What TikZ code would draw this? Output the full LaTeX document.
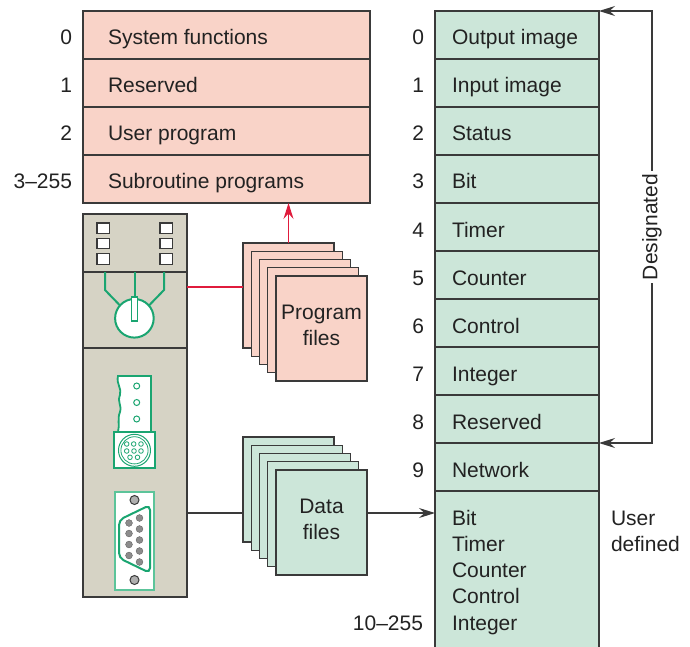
\documentclass[tikz,border=0pt]{standalone}
\usepackage{fontspec}
\setmainfont{Liberation Sans}
\usetikzlibrary{arrows.meta,calc}
\definecolor{pinkfill}{HTML}{F9D3C8}
\definecolor{mintfill}{HTML}{CCE6D9}
\definecolor{plcgray}{HTML}{D6D3C5}
\definecolor{edge}{HTML}{3A3A3A}
\definecolor{ink}{HTML}{222222}
\definecolor{wire}{HTML}{E01B3C}
\definecolor{pcb}{HTML}{1AA571}
\definecolor{pcblight}{HTML}{5CC49A}
\definecolor{pin}{HTML}{8C8C8C}

\begin{document}
\begin{tikzpicture}[x=1pt,y=-1pt,
  every node/.style={inner sep=0pt, outer sep=0pt, text=ink},
  font=\fontsize{21}{26.4}\selectfont,
  frame/.style={draw=edge, line width=1.3pt},
  progrow/.style={frame, fill=pinkfill, minimum width=287pt, minimum height=48pt, anchor=north west},
  datarow/.style={frame, fill=mintfill, minimum width=164pt, minimum height=48pt, anchor=north west},
  sheetbox/.style={frame, minimum width=91pt, minimum height=105pt, anchor=north west, align=center, text depth=6pt},
  arrowed/.style={-{Stealth[length=16pt,width=10pt,inset=5.5pt]}},
  conn/.style={draw=edge, line width=1.2pt},
  redconn/.style={draw=wire, line width=1.2pt},
  greenline/.style={draw=pcb, line width=2pt},
  led/.style={draw=edge, line width=1.1pt, fill=white},
  pinball/.style={fill=pin, draw=pin!70!black, line width=0.4pt},
]
\useasboundingbox (0,0) rectangle (690,647);

% ---------- program file table ----------
\foreach \i/\t/\n in {0/System functions/0, 1/Reserved/1, 2/User program/2, 3/Subroutine programs/3--255}{
  \node[progrow] (p\i) at (83,{11+48*\i}) {};
  \node[anchor=base west] (pt\i) at ($(p\i.north west)+(25,34)$) {\t};
  \node[anchor=base east] (pn\i) at ($(p\i.north west)+(-11,34)$) {\n};
}

% ---------- data file table ----------
\foreach \i/\t in {0/Output image, 1/Input image, 2/Status, 3/Bit, 4/Timer, 5/Counter, 6/Control, 7/Integer, 8/Reserved, 9/Network}{
  \node[datarow] (d\i) at (435,{11+48*\i}) {};
  \node[anchor=base west] (dt\i) at ($(d\i.north west)+(17,34)$) {\t};
  \node[anchor=base east] (dn\i) at ($(d\i.north west)+(-11,34)$) {\i};
}
\node[datarow, minimum height=170pt] (d10) at (435,491) {};
\foreach \k/\t in {0/Bit, 1/Timer, 2/Counter, 3/Control, 4/Integer}{
  \node[anchor=base west] (ud\k) at ($(d10.north west)+(17,{34+26.3*\k})$) {\t};
}
\node[anchor=base east] (dn10) at ($(d10.north west)+(-12,139.2)$) {10--255};
\node[anchor=base west] (user1) at (611,525) {User};
\node[anchor=base west] (user2) at (611,551.3) {defined};

% designated bracket
\node[rotate=90, inner xsep=3pt] (desig) at (652,227) {Designated};
\draw[conn, arrowed] (desig.east) |- (d0.north east);
\draw[conn, arrowed] (desig.west) |- (d9.north east);

% ---------- PLC processor module ----------
\draw[frame, fill=plcgray] (83,214) rectangle (187,597);
\draw[frame] (83,272) -- (187,272);
\draw[frame] (83,348) -- (187,348);
% status LEDs
\foreach \y in {223,238.3,253.6}{
  \draw[led] (97,\y) rectangle ++(12.5,10.5);
  \draw[led] (160,\y) rectangle ++(12.5,10.5);
}
% key switch
\draw[greenline] (105,272) -- (105,290) -- (121,306.5);
\draw[greenline] (164,272) -- (164,290) -- (148,306.5);
\draw[greenline] (134.5,272) -- (134.5,298);
\draw[greenline, fill=white] (134.4,318.3) circle (19.3);
\draw[draw=pcb, line width=1.6pt, fill=white] (131.6,297) rectangle (137.4,321);

% terminal block
\draw[draw=pcb, line width=1.8pt, fill=white]
  (151,376) -- (118,376)
  .. controls (116,384) and (122,388) .. (120,395)
  .. controls (117,402) and (122,405) .. (120,412)
  .. controls (117,419) and (120,425) .. (118,432)
  -- (151,432) -- cycle;
\foreach \y in {386,402.5,419}{
  \draw[draw=pcb, line width=1pt] (136.7,\y) circle (3);
}
% mini-DIN port
\draw[draw=pcb, line width=2.3pt, fill=white] (114.3,432.3) rectangle (155,468.3);
\draw[draw=pcb, line width=1pt] (134.5,450.3) circle (16);
\draw[draw=pcb, line width=0.8pt] (134.5,450.3) circle (13.6);
\foreach \px/\py in {126.7/444, 133.7/444, 141/444, 126.7/451, 134/451, 141/451, 130/457.3, 137.5/457.3}{
  \draw[draw=pcb, line width=0.8pt] (\px,\py) circle (2.3);
}

% 9-pin serial port
\draw[draw=pcblight, line width=1.2pt, fill=white] (115,492) rectangle (154,590);
\foreach \y in {500,580}{
  \draw[fill=pin!70, draw=edge, line width=1pt] (134.5,\y) circle (4.5);
}
\draw[greenline, rounded corners=5pt] (119,520) -- (150,505) -- (150,573) -- (119,558) -- cycle;
\foreach \y in {523,533.5,544.5,555.5}{ \fill[pinball] (129,\y) circle (3.4); }
\foreach \y in {518,529,540,551,562}{ \fill[pinball] (139.5,\y) circle (3.4); }

\coordinate (plcR1) at (187,287);
\coordinate (plcR2) at (187,513);

% ---------- program file stack ----------
\foreach \k in {1,...,5}{
  \node[sheetbox, fill=pinkfill] (prog\k) at ({243+8.25*(\k-1)},{243+8.25*(\k-1)}) {};
}
\node[sheetbox, fill=pinkfill] (prog5) at (276,276) {Program\\files};
\draw[redconn] (plcR1) -- (prog1.west |- plcR1);
\draw[redconn, arrowed] (prog1.north) -- (prog1.north |- p3.south);

% ---------- data file stack ----------
\foreach \k in {1,...,5}{
  \node[sheetbox, fill=mintfill] (data\k) at ({243+8.25*(\k-1)},{437+8.25*(\k-1)}) {};
}
\node[sheetbox, fill=mintfill] (data5) at (276,470) {Data\\files};
\draw[conn] (plcR2) -- (data1.west |- plcR2);
\draw[conn, arrowed] (data5.east |- plcR2) -- (d10.west |- plcR2);

\end{tikzpicture}
\end{document}
